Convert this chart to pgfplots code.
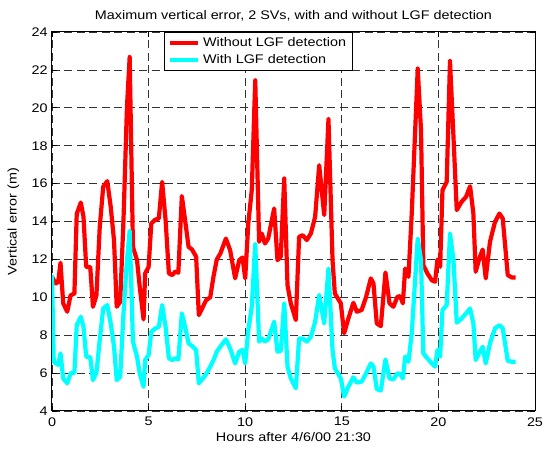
\documentclass[border=0pt]{standalone}
\usepackage{pgfplots}
\pgfplotsset{compat=1.18}
\usepackage{fontspec}
\setmainfont{Liberation Sans}[FakeStretch=1.15]
\definecolor{lgfred}{rgb}{1,0,0}
\definecolor{lgfcyan}{rgb}{0,1,1}

\begin{document}
\fontsize{12.5}{14}\selectfont
\begin{tikzpicture}
\useasboundingbox (-52pt,-39pt) rectangle (492pt,411pt);
\begin{axis}[
    at={(0,0)}, anchor=south west,
    scale only axis,
    width=483pt, height=379pt,
    xmin=0, xmax=25, ymin=4, ymax=24,
    xtick={0,5,...,25}, ytick={4,6,...,24},
    /pgf/number format/assume math mode=true,
    tick align=inside, tick pos=both,
    major tick length=5pt,
    xmajorgrids, ymajorgrids,
    grid style={black!80, line width=0.7pt, dash pattern=on 8pt off 4.5pt},
    axis line style={black, line width=1pt},
    tick style={black, line width=0.7pt},
    title={Maximum vertical error, 2 SVs, with and without LGF detection},
    title style={at={(axis description cs:0.5,1.0475)}, anchor=center, yshift=-8pt},
    xlabel={Hours after 4/6/00 21:30},
    ylabel={Vertical error (m)},
    xlabel style={at={(axis description cs:0.5,-0.0686)}, anchor=center},
    ylabel style={at={(axis description cs:-0.0800,0.5)}, anchor=center},
    xticklabel style={yshift=-2pt},
    legend style={at={(0.4275,1)}, anchor=north, draw=black, line width=1pt,
        inner xsep=3pt, inner ysep=2.5pt, row sep=1pt,
        nodes={inner xsep=3pt, inner ysep=2.5pt},
        font=\fontsize{12.5}{14}\selectfont},
    legend cell align=left,
    legend image code/.code={\draw[#1, line width=4.2pt] (0pt,0pt) -- (28pt,0pt);},
]
\addplot[lgfred, line width=4.2pt, line join=round] coordinates {
(0,11.08) (0.19,10.73) (0.32,10.8) (0.44,11.82) (0.58,9.68) (0.79,9.24) (0.96,10.1) (1.16,10.2)
(1.28,14.4) (1.49,15.0) (1.63,14.25) (1.77,11.6) (1.98,11.6) (2.12,9.5) (2.3,10.1) (2.47,13.7)
(2.65,15.83) (2.86,16.13) (3.04,14.77) (3.21,13.0) (3.35,9.5) (3.53,9.76) (3.70,14.07) (3.88,20.05)
(4.02,22.68) (4.19,12.66) (4.40,11.96) (4.54,10.56) (4.74,8.83) (4.82,11.26) (5.0,11.6) (5.14,13.9)
(5.35,14.1) (5.53,14.16) (5.70,16.09) (5.88,14.07) (6.05,11.26) (6.23,11.17) (6.37,11.35) (6.54,11.3)
(6.72,15.34) (6.89,14.07) (7.07,12.66) (7.25,12.52) (7.46,12.14) (7.6,9.06) (7.81,9.5) (7.98,9.85)
(8.19,10.0) (8.36,11.1) (8.53,12.0) (8.71,12.3) (9.0,13.1) (9.22,12.49) (9.48,11.0) (9.69,11.96)
(9.86,12.1) (10.0,11.0) (10.16,13.9) (10.34,15.65) (10.52,21.45) (10.72,12.93) (10.86,13.37) (11.02,12.84)
(11.19,13.1) (11.5,14.69) (11.67,11.96) (11.84,12.14) (12.02,16.27) (12.19,10.64) (12.36,9.68) (12.62,8.8)
(12.79,13.19) (12.97,13.28) (13.19,13.02) (13.40,13.37) (13.62,14.25) (13.83,16.97) (14.09,14.34) (14.31,19.4)
(14.52,11.96) (14.64,10.2) (14.95,9.68) (15.12,8.1) (15.34,8.88) (15.6,9.71) (15.78,9.24) (16.03,9.33)
(16.26,10.03) (16.5,11.0) (16.64,10.73) (16.81,8.62) (17.02,8.48) (17.26,11.31) (17.47,9.68) (17.67,9.5)
(17.88,10.03) (18.02,10.06) (18.16,9.68) (18.28,11.52) (18.45,11.08) (18.62,14.42) (18.93,22.07) (19.1,18.82)
(19.22,11.7) (19.43,11.26) (19.66,10.9) (19.83,10.82) (19.95,12.0) (20.09,11.61) (20.21,15.65) (20.43,16.09)
(20.6,22.47) (20.78,18.47) (20.95,14.6) (21.2,15.04) (21.43,15.3) (21.64,15.86) (21.81,14.42) (21.93,11.35)
(22.12,12.05) (22.29,12.52) (22.45,11.0) (22.67,12.93) (22.93,13.98) (23.16,14.42) (23.33,14.16) (23.59,11.17)
(23.79,11.05) (24.0,11.05)
};
\addlegendentry{Without LGF detection}
\addplot[lgfcyan, line width=4.2pt, line join=round] coordinates {
(0,11.17) (0.09,6.6) (0.32,6.43) (0.44,7.04) (0.58,5.72) (0.79,5.46) (0.96,5.99) (1.16,6.02)
(1.28,8.53) (1.49,8.97) (1.63,8.44) (1.77,6.87) (1.98,6.83) (2.12,5.63) (2.3,6.02) (2.47,7.74)
(2.65,9.41) (2.86,9.59) (3.04,8.62) (3.21,7.39) (3.35,5.63) (3.53,5.81) (3.70,9.15) (3.88,11.96)
(4.02,13.51) (4.19,7.66) (4.40,6.87) (4.54,5.99) (4.74,5.28) (4.82,6.69) (5.0,6.95) (5.14,8.18)
(5.35,8.36) (5.53,8.44) (5.70,9.59) (5.88,8.44) (6.05,6.78) (6.23,6.69) (6.37,6.78) (6.54,6.72)
(6.72,9.15) (6.89,8.44) (7.07,7.57) (7.25,7.43) (7.46,7.22) (7.6,5.46) (7.81,5.72) (7.98,5.95)
(8.19,6.34) (8.36,6.69) (8.53,7.13) (8.71,7.39) (9.0,7.78) (9.22,7.3) (9.48,6.51) (9.69,7.13)
(9.86,7.22) (10.0,6.51) (10.16,8.27) (10.34,9.5) (10.52,12.8) (10.72,7.66) (10.86,7.83) (11.02,7.66)
(11.19,7.78) (11.5,8.71) (11.67,7.13) (11.84,7.17) (12.02,9.68) (12.19,6.34) (12.36,5.72) (12.62,5.2)
(12.79,7.83) (12.97,7.83) (13.19,7.66) (13.40,7.92) (13.62,8.71) (13.83,10.12) (14.09,8.62) (14.31,11.52)
(14.52,7.22) (14.64,6.25) (14.95,5.72) (15.12,4.76) (15.34,5.28) (15.6,5.78) (15.78,5.5) (16.03,5.55)
(16.26,5.99) (16.5,6.51) (16.64,6.34) (16.81,5.15) (17.02,5.08) (17.26,6.72) (17.47,5.72) (17.67,5.67)
(17.88,5.99) (18.02,5.95) (18.16,5.72) (18.28,6.87) (18.45,6.6) (18.62,8.09) (18.93,13.1) (19.1,11.96)
(19.22,7.04) (19.43,6.78) (19.66,6.51) (19.83,6.34) (19.95,7.22) (20.09,6.87) (20.21,9.33) (20.43,9.59)
(20.6,13.37) (20.78,11.96) (20.95,8.66) (21.2,8.88) (21.43,9.15) (21.64,9.41) (21.81,8.62) (21.93,6.69)
(22.12,7.08) (22.29,7.39) (22.45,6.51) (22.67,7.57) (22.93,8.36) (23.16,8.53) (23.33,8.36) (23.59,6.65)
(23.79,6.6) (24.0,6.6)
};
\addlegendentry{With LGF detection}
\end{axis}
\end{tikzpicture}
\end{document}
